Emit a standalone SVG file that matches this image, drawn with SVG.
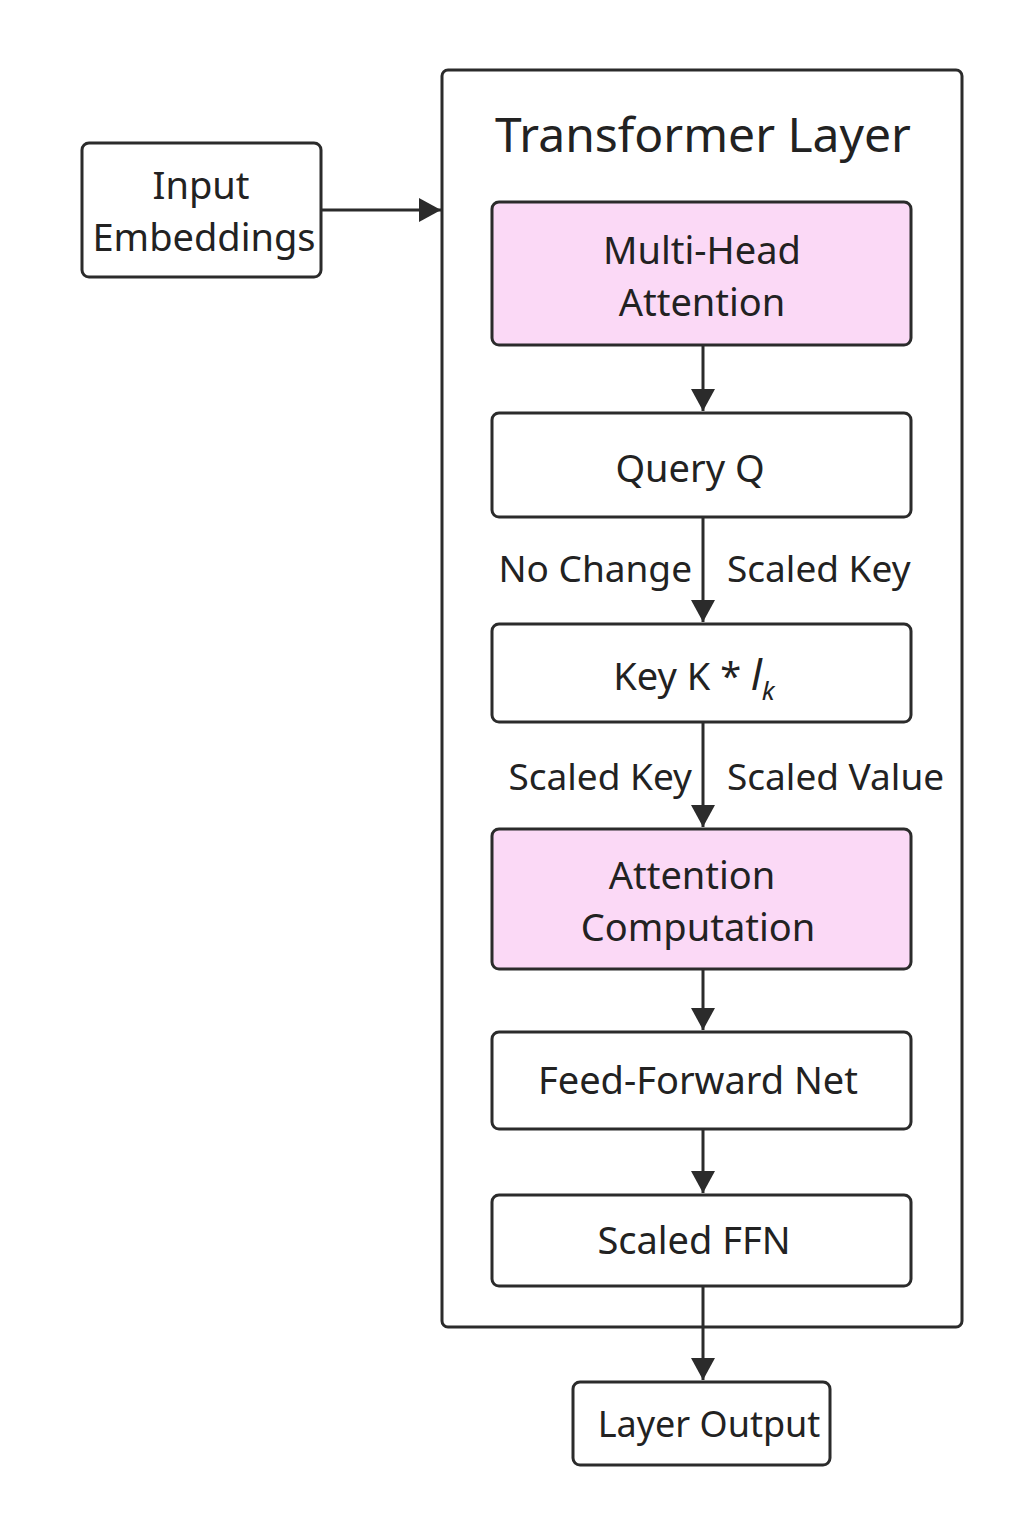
<svg xmlns="http://www.w3.org/2000/svg" width="1024" height="1536" viewBox="0 0 1024 1536">
<defs>
<marker id="ah" markerWidth="22" markerHeight="24" refX="22" refY="12" orient="auto" markerUnits="userSpaceOnUse" viewBox="0 0 22 24">
<path d="M0,0 L22,12 L0,24 Z" fill="#2b2b2b"/>
</marker>
<style>
.box{fill:#ffffff;stroke:#2b2b2b;stroke-width:3}
.pink{fill:#fbd9f6;stroke:#2b2b2b;stroke-width:3}
.t{font-family:"Noto Sans","Open Sans",sans-serif;font-size:38px;fill:#222;text-anchor:middle}
.lbl{font-family:"Noto Sans","Open Sans",sans-serif;font-size:37px;fill:#222}
.edge{stroke:#2b2b2b;stroke-width:3;fill:none}
</style>
</defs>
<rect width="1024" height="1536" fill="#ffffff"/>
<g id="layer">
<rect x="442" y="70" width="520" height="1257" rx="6" class="box"/>
<text x="703" y="152" class="t" style="font-size:48px">Transformer Layer</text>
</g>
<g id="input">
<rect x="82" y="143" width="239" height="134" rx="7" class="box"/>
<text x="201" y="199" class="t">Input</text>
<text x="204" y="251" class="t">Embeddings</text>
</g>
<g id="mha">
<rect x="492" y="202" width="419" height="143" rx="7" class="pink"/>
<text x="702" y="264" class="t">Multi-Head</text>
<text x="702" y="316" class="t">Attention</text>
</g>
<g id="query">
<rect x="492" y="413" width="419" height="104" rx="7" class="box"/>
<text x="690" y="482" class="t">Query Q</text>
</g>
<g id="key">
<rect x="492" y="624" width="419" height="98" rx="7" class="box"/>
<text x="694" y="690" class="t">Key K * <tspan font-style="italic" font-size="42">l</tspan><tspan font-style="italic" font-size="26" dy="10">k</tspan></text>
</g>
<g id="attn">
<rect x="492" y="829" width="419" height="140" rx="7" class="pink"/>
<text x="692" y="889" class="t">Attention</text>
<text x="698" y="941" class="t">Computation</text>
</g>
<g id="ffn">
<rect x="492" y="1032" width="419" height="97" rx="7" class="box"/>
<text x="698" y="1094" class="t">Feed-Forward Net</text>
</g>
<g id="sffn">
<rect x="492" y="1195" width="419" height="91" rx="7" class="box"/>
<text x="694" y="1254" class="t">Scaled FFN</text>
</g>
<g id="out">
<rect x="573" y="1382" width="257" height="83" rx="7" class="box"/>
<text x="709" y="1437" class="t" style="font-size:36px">Layer Output</text>
</g>
<g id="connectors">
<line x1="321" y1="210" x2="441" y2="210" class="edge" marker-end="url(#ah)"/>
<line x1="703" y1="345" x2="703" y2="411" class="edge" marker-end="url(#ah)"/>
<line x1="703" y1="517" x2="703" y2="622" class="edge" marker-end="url(#ah)"/>
<line x1="703" y1="722" x2="703" y2="827" class="edge" marker-end="url(#ah)"/>
<line x1="703" y1="969" x2="703" y2="1030" class="edge" marker-end="url(#ah)"/>
<line x1="703" y1="1129" x2="703" y2="1193" class="edge" marker-end="url(#ah)"/>
<line x1="703" y1="1286" x2="703" y2="1380" class="edge" marker-end="url(#ah)"/>
<text x="692" y="582" class="lbl" text-anchor="end">No Change</text>
<text x="727" y="582" class="lbl">Scaled Key</text>
<text x="692" y="790" class="lbl" text-anchor="end">Scaled Key</text>
<text x="727" y="790" class="lbl">Scaled Value</text>
</g>
</svg>
